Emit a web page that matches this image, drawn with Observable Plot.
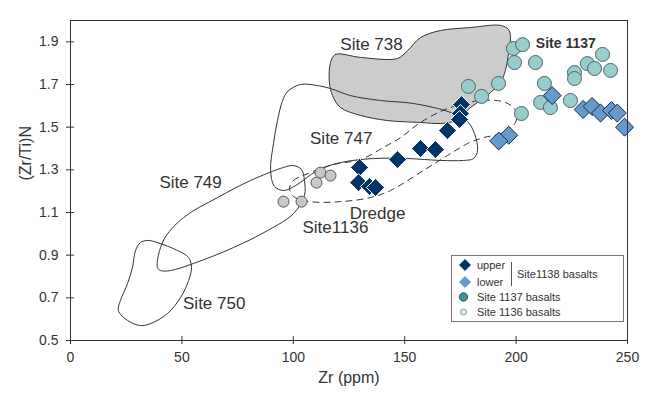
<!DOCTYPE html>
<html>
<head>
<meta charset="utf-8">
<script src="https://cdn.jsdelivr.net/npm/d3@7"></script>
<script src="https://cdn.jsdelivr.net/npm/@observablehq/plot@0.6"></script>
<style>
  body { margin: 0; background: #fff; }
  #wrap { position: relative; width: 645px; height: 396px; font-family: "Liberation Sans", Arial, Helvetica, sans-serif; }
  #legend { position: absolute; left: 451px; top: 255px; }
</style>
</head>
<body>
<div id="wrap"></div>
<script>
// ---------- data (Zr ppm, (Zr/Ti)N) ----------
const site1138Upper = [
  [175.5, 1.606], [175.0, 1.564], [174.6, 1.536], [169.2, 1.484],
  [157.1, 1.400], [163.8, 1.395], [146.8, 1.348], [129.7, 1.311],
  [129.3, 1.240], [134.2, 1.222], [136.9, 1.217]
];
const site1138Lower = [
  [216.2, 1.648], [230.1, 1.583], [234.1, 1.597], [237.9, 1.566],
  [242.8, 1.578], [245.4, 1.566], [248.7, 1.500], [196.7, 1.462], [192.2, 1.435]
];
const site1137 = [
  [198.8, 1.869], [202.9, 1.887], [199.3, 1.803], [208.7, 1.803],
  [212.7, 1.705], [192.1, 1.705], [178.6, 1.691], [184.5, 1.644],
  [211.0, 1.616], [215.4, 1.592], [224.4, 1.625], [202.4, 1.564],
  [226.2, 1.756], [226.2, 1.728], [232.0, 1.798], [238.8, 1.841],
  [235.2, 1.775], [242.4, 1.766]
];
const site1136 = [
  [95.6, 1.151], [103.7, 1.151], [110.4, 1.240], [112.2, 1.287], [116.7, 1.273]
];

// field outlines
const field738 = [
  [116.7, 1.803], [118.9, 1.841], [130.2, 1.827], [146.8, 1.822], [151.3, 1.859],
  [157.1, 1.920], [166.1, 1.953], [179.5, 1.967], [193.0, 1.977], [196.6, 1.958],
  [197.5, 1.920], [196.6, 1.845], [195.2, 1.766], [193.0, 1.709], [188.5, 1.662],
  [184.0, 1.625], [179.5, 1.592], [175.9, 1.559], [171.5, 1.526], [166.1, 1.517],
  [157.1, 1.522], [142.3, 1.531], [130.2, 1.555], [121.2, 1.592], [117.6, 1.648],
  [116.2, 1.709]
];
const field747 = [
  [95.2, 1.625], [97.4, 1.667], [103.2, 1.700], [110.9, 1.695], [116.7, 1.681],
  [125.7, 1.648], [139.1, 1.625], [153.9, 1.611], [170.6, 1.569], [178.2, 1.526],
  [181.3, 1.470], [182.7, 1.391], [180.9, 1.353], [176.4, 1.344], [166.1, 1.344],
  [151.3, 1.353], [136.0, 1.353], [121.2, 1.334], [110.9, 1.297], [101.0, 1.226],
  [95.6, 1.203], [91.6, 1.222], [89.8, 1.297], [91.1, 1.423], [92.9, 1.531]
];
const field749 = [
  [39.0, 0.842], [41.7, 0.969], [50.7, 1.076], [66.0, 1.170], [80.8, 1.250],
  [95.6, 1.311], [100.1, 1.320], [103.7, 1.301], [105.0, 1.250], [105.0, 1.180],
  [100.1, 1.095], [88.4, 1.015], [73.2, 0.936], [55.2, 0.861], [44.9, 0.828],
  [40.4, 0.828]
];
const field750 = [
  [34.6, 0.969], [39.0, 0.959], [48.0, 0.922], [53.0, 0.889], [54.3, 0.842],
  [53.0, 0.781], [49.4, 0.701], [43.5, 0.626], [35.9, 0.579], [31.4, 0.570],
  [25.6, 0.594], [21.5, 0.640], [22.4, 0.687], [25.6, 0.767], [27.8, 0.842],
  [29.2, 0.922], [31.4, 0.959]
];
const fieldDredge = [
  [98.3, 1.212], [100.1, 1.250], [107.7, 1.287], [118.0, 1.325], [130.2, 1.348],
  [140.5, 1.405], [148.1, 1.451], [157.1, 1.522], [169.2, 1.587], [184.0, 1.625],
  [195.2, 1.616], [199.7, 1.578], [199.7, 1.522], [193.0, 1.470], [185.4, 1.451],
  [178.2, 1.423], [169.2, 1.367], [158.4, 1.297], [143.6, 1.203], [134.6, 1.170],
  [121.2, 1.151], [107.7, 1.151], [100.1, 1.175]
];

const fieldLabels = [
  {x: 135.1, y: 1.887, t: "Site 738"},
  {x: 121.5, y: 1.445, t: "Site 747"},
  {x: 53.9, y: 1.242, t: "Site 749"},
  {x: 64.5, y: 0.672, t: "Site 750"},
  {x: 137.8, y: 1.095, t: "Dredge"},
  {x: 118.9, y: 1.030, t: "Site1136"}
];
const boldLabels = [{x: 222.3, y: 1.894, t: "Site 1137"}];

const xTicks = [0, 50, 100, 150, 200, 250];
const yTicks = [0.5, 0.7, 0.9, 1.1, 1.3, 1.5, 1.7, 1.9];
const xLabel = "Zr (ppm)";
const yLabel = "(Zr/Ti)N";

// ---------- chart ----------
const FONT = '"Liberation Sans", Arial, Helvetica, sans-serif';
const X = d => d[0], Y = d => d[1];

const chart = Plot.plot({
  width: 645,
  height: 396,
  marginLeft: 70,
  marginRight: 18,
  marginTop: 20,
  marginBottom: 56,
  style: {fontFamily: FONT, fontSize: "14px", color: "#333", background: "#fff", overflow: "visible"},
  x: {domain: [0, 250], ticks: xTicks},
  y: {domain: [0.5, 2.0], ticks: yTicks},
  marks: [
    Plot.line(field738, {x: X, y: Y, curve: "catmull-rom-closed", fill: "#cccccc", stroke: "#333", strokeWidth: 1}),
    Plot.line(field747, {x: X, y: Y, curve: "catmull-rom-closed", stroke: "#333", strokeWidth: 1}),
    Plot.line(field749, {x: X, y: Y, curve: "catmull-rom-closed", stroke: "#333", strokeWidth: 1}),
    Plot.line(field750, {x: X, y: Y, curve: "catmull-rom-closed", stroke: "#333", strokeWidth: 1}),
    Plot.line(fieldDredge, {x: X, y: Y, curve: "catmull-rom-closed", stroke: "#333", strokeWidth: 1, strokeDasharray: "6,5"}),
    Plot.dot(site1136, {x: X, y: Y, r: 5.5, fill: "#c8c8c8", stroke: "#555", strokeWidth: 1}),
    Plot.dot(site1137, {x: X, y: Y, r: 7, fill: "#99cccc", stroke: "#4a6666", strokeWidth: 1}),
    Plot.dot(site1138Upper, {x: X, y: Y, symbol: "diamond2", r: 8.1, fill: "#003366", stroke: "#fff", strokeWidth: 1}),
    Plot.dot(site1138Lower, {x: X, y: Y, symbol: "diamond2", r: 8.1, fill: "#6699cc", stroke: "#1c2b44", strokeWidth: 1}),
    Plot.text(fieldLabels, {x: "x", y: "y", text: "t", fontSize: 17, fill: "#333"}),
    Plot.text(boldLabels, {x: "x", y: "y", text: "t", fontSize: 14, fontWeight: "bold", fill: "#333"}),
    Plot.frame({stroke: "#333", strokeWidth: 1}),
    Plot.axisX({ticks: xTicks, tickSize: 4, tickPadding: 8, fontSize: 14, stroke: "#333", fill: "#333", label: null}),
    Plot.axisX({ticks: xTicks, tickSize: 4, dy: -4, tickFormat: () => "", stroke: "#333", label: null}),
    Plot.axisY({ticks: yTicks, tickSize: 4, tickPadding: 8, fontSize: 14, tickFormat: d3.format(".1f"), stroke: "#333", fill: "#333", label: null}),
    Plot.axisY({ticks: yTicks, tickSize: 4, dx: 4, tickFormat: () => "", stroke: "#333", label: null}),
    Plot.text([xLabel], {text: d => d, frameAnchor: "bottom", dy: 42, fontSize: 16, fill: "#333"}),
    Plot.text([yLabel], {text: d => d, frameAnchor: "left", dx: -45, rotate: -90, fontSize: 16, fill: "#333"})
  ]
});

const wrap = document.getElementById("wrap");
wrap.appendChild(chart);

// ---------- legend ----------
const legendRows = ["upper", "lower", "Site1138 basalts", "Site 1137 basalts", "Site 1136 basalts"];
const ns = "http://www.w3.org/2000/svg";
const lg = document.createElementNS(ns, "svg");
lg.setAttribute("id", "legend");
lg.setAttribute("width", 174);
lg.setAttribute("height", 68);
lg.style.fontFamily = FONT;
function el(tag, attrs, txt) {
  const e = document.createElementNS(ns, tag);
  for (const k in attrs) e.setAttribute(k, attrs[k]);
  if (txt != null) e.textContent = txt;
  lg.appendChild(e);
  return e;
}
el("rect", {x: 0.5, y: 0.5, width: 172, height: 66, fill: "#fff", stroke: "#777"});
const dia = (cx, cy, h) => `M${cx},${cy - h}L${cx + h},${cy}L${cx},${cy + h}L${cx - h},${cy}Z`;
el("path", {d: dia(14, 10, 6.5), fill: "#003366", stroke: "#fff"});
el("path", {d: dia(14, 27, 6.5), fill: "#6699cc", stroke: "#fff"});
el("line", {x1: 60.5, x2: 60.5, y1: 7, y2: 31, stroke: "#555"});
el("circle", {cx: 12.5, cy: 42, r: 4.2, fill: "#339999", stroke: "#333", "stroke-width": 0.8});
el("circle", {cx: 12.5, cy: 57, r: 3, fill: "#ccffcc", stroke: "#777", "stroke-width": 0.8});
const tx = [[26, 10], [26, 27], [66, 19], [26, 42], [26, 57]];
legendRows.forEach((t, i) => el("text", {x: tx[i][0], y: tx[i][1], dy: "0.35em", "font-size": 11, fill: "#333"}, t));
wrap.appendChild(lg);
</script>
</body>
</html>
